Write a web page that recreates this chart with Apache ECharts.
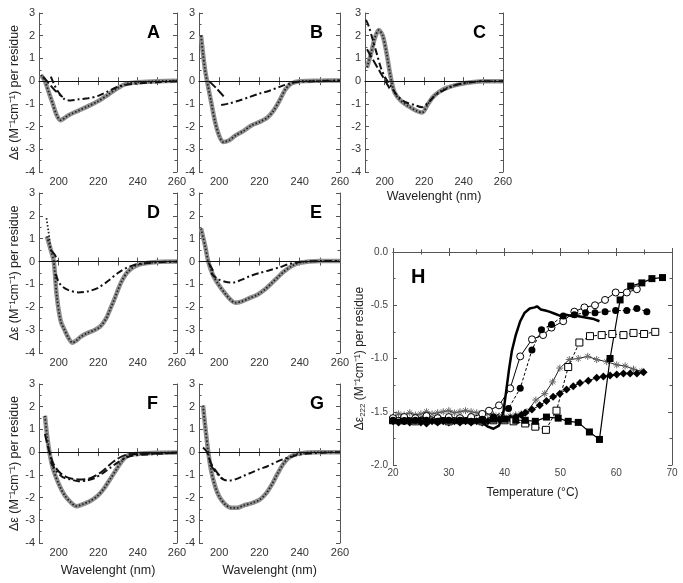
<!DOCTYPE html>
<html><head><meta charset="utf-8">
<script src="https://cdn.jsdelivr.net/npm/echarts@6/dist/echarts.min.js"></script>
<style>html,body{margin:0;padding:0;background:#fff}#c{width:683px;height:583px}</style>
</head><body><div id="c"></div>
<script>
// ---------- CD spectra data (wavelength nm, Δε) ----------
const A_gray = [[191,0.27],[193,0.0],[195,-0.5],[197,-1.0],[199,-1.5],[201,-1.72],[203,-1.62],[205,-1.5],[210,-1.3],[215,-1.1],[220,-0.88],[225,-0.6],[230,-0.3],[235,-0.1],[240,-0.05],[250,0],[260,0.02]];
const A_dashdot = [[196,0.2],[198,-0.2],[200,-0.5],[203,-0.8],[206,-0.85],[210,-0.8],[215,-0.75],[220,-0.65],[225,-0.45],[230,-0.25],[235,-0.15],[240,-0.1],[250,-0.05],[260,0]];
const A_short = [[192,0.2],[195,-0.1],[198,-0.4],[202,-0.7]];

const B_gray = [[191,2.0],[192,1.2],[193,0.5],[194,0],[196,-0.9],[198,-1.8],[200,-2.4],[202,-2.68],[205,-2.6],[208,-2.4],[212,-2.2],[216,-1.95],[220,-1.8],[224,-1.6],[227,-1.3],[230,-0.85],[233,-0.35],[236,-0.1],[240,0],[250,0.02],[260,0.03]];
const B_dashdot = [[201,-1.05],[205,-0.98],[210,-0.85],[215,-0.7],[220,-0.55],[225,-0.42],[230,-0.25],[235,-0.1],[240,-0.03],[250,0],[260,0.03]];
const B_short = [[195,0.0],[199,-0.35],[203,-0.75]];

const C_gray = [[191,0.6],[193,1.2],[195,1.9],[197,2.25],[199,2.0],[201,1.2],[203,0.2],[205,-0.5],[208,-0.85],[212,-1.1],[216,-1.3],[219,-1.38],[222,-1.0],[225,-0.65],[230,-0.35],[235,-0.2],[240,-0.1],[250,0],[260,0]];
const C_dashdot = [[190.5,2.7],[192,2.4],[194,1.8],[196,1.2],[198,0.6],[200,0.2],[203,-0.2],[206,-0.6],[210,-0.9],[215,-1.05],[219,-1.15],[222,-0.95],[226,-0.6],[230,-0.4],[235,-0.2],[240,-0.1],[250,0],[260,0]];
const C_short = [[191,1.4],[193,1.1],[195,0.8],[197,0.5],[199,0.2],[201,-0.1],[203,-0.4]];

const D_gray = [[194,1.1],[196,0.5],[197.5,0],[199,-1.5],[201,-2.6],[203,-3.0],[205,-3.35],[207,-3.55],[209,-3.45],[211,-3.3],[214,-3.15],[218,-3.0],[221,-2.85],[224,-2.5],[226,-2.1],[228,-1.7],[230,-1.25],[232,-0.85],[235,-0.45],[240,-0.15],[250,-0.02],[260,0]];
const D_dotTip = [[193.8,1.9],[195,1.2],[196,0.5]];
const D_dashdot = [[198.5,-0.55],[200,-0.9],[202,-1.1],[205,-1.25],[210,-1.35],[215,-1.3],[220,-1.15],[225,-0.85],[230,-0.5],[235,-0.25],[240,-0.12],[250,-0.03],[260,0]];
const D_short = [[196,0.5],[198,0.3],[199.5,0.0]];

const E_gray = [[191,1.45],[193,0.7],[194.6,0],[197,-0.6],[200,-1.05],[203,-1.4],[206,-1.7],[208,-1.8],[211,-1.75],[215,-1.6],[219,-1.45],[223,-1.2],[226,-0.95],[229,-0.7],[232,-0.45],[236,-0.2],[240,-0.05],[250,0.02],[260,0.02]];
const E_dashdot = [[196,-0.5],[199,-0.75],[203,-0.88],[207,-0.92],[211,-0.8],[215,-0.65],[220,-0.5],[225,-0.38],[230,-0.25],[235,-0.1],[240,-0.02],[250,0.02],[260,0.02]];
const E_short = [[195,-0.1],[197,-0.4]];

const F_gray = [[193,1.6],[194,0.8],[195.3,0],[197,-0.7],[200,-1.4],[203,-1.9],[206,-2.2],[209,-2.38],[212,-2.3],[216,-2.15],[220,-1.9],[223,-1.6],[226,-1.2],[229,-0.8],[232,-0.4],[235,-0.15],[240,-0.08],[250,-0.03],[260,-0.02]];
const F_dashdot = [[196,-0.45],[199,-0.85],[202,-1.1],[206,-1.2],[210,-1.28],[214,-1.25],[218,-1.15],[222,-0.95],[226,-0.7],[230,-0.45],[234,-0.25],[238,-0.15],[245,-0.1],[260,-0.02]];
const F_short = [[193,0.8],[195,0.1],[197,-0.45],[200,-0.85],[204,-1.1],[210,-1.2],[216,-1.15],[222,-0.85],[228,-0.4],[234,-0.12],[240,-0.08],[250,-0.05],[260,-0.02]];

const G_gray = [[192,2.05],[193,1.2],[194.6,0],[196,-0.8],[198,-1.5],[200,-1.95],[203,-2.3],[206,-2.45],[209,-2.45],[212,-2.35],[216,-2.25],[220,-2.1],[223,-1.85],[226,-1.45],[229,-0.95],[232,-0.5],[235,-0.22],[240,-0.05],[250,0],[260,0]];
const G_dashdot = [[196,-0.6],[199,-0.95],[202,-1.2],[205,-1.25],[208,-1.2],[212,-1.05],[216,-0.9],[220,-0.75],[224,-0.62],[228,-0.45],[232,-0.3],[236,-0.2],[240,-0.1],[250,-0.03],[260,0]];
const G_short = [[192,0.2],[194,0],[196,-0.5],[199,-0.9],[202,-1.2]];

// ---------- thermal melts (T °C, Δε222) ----------
const H_thick = [[20,-1.57],[21,-1.58],[22,-1.56],[23,-1.57],[24,-1.58],[25,-1.56],[26,-1.57],[27,-1.58],[28,-1.57],[29,-1.56],[30,-1.57],[31,-1.58],[32,-1.56],[33,-1.57],[34,-1.58],[35,-1.57],[36,-1.6],[37,-1.64],[38,-1.66],[39,-1.63],[39.8,-1.5],[40.3,-1.3],[40.8,-1.1],[41.3,-0.93],[42,-0.78],[42.8,-0.65],[43.6,-0.57],[44.5,-0.53],[45.4,-0.52],[45.8,-0.51],[46.5,-0.54],[47.3,-0.55],[48,-0.56],[49,-0.58],[50,-0.6],[51,-0.59],[52,-0.6],[53,-0.6],[54,-0.61],[55,-0.62],[56,-0.63],[57,-0.65]];
const H_openCircle = [[20,-1.56],[22,-1.55],[24,-1.56],[26,-1.54],[28,-1.56],[30,-1.55],[32,-1.56],[34,-1.55],[36,-1.52],[37.2,-1.49],[39,-1.44],[41,-1.28],[42.8,-0.98],[44.9,-0.82],[46.9,-0.78],[48.4,-0.71],[50.5,-0.65],[52.5,-0.56],[54.3,-0.52],[56.2,-0.5],[58,-0.45],[59.9,-0.38],[61.9,-0.38],[63.7,-0.35]];
const H_fillCircle = [[20,-1.58],[22,-1.59],[24,-1.58],[26,-1.58],[28,-1.59],[30,-1.58],[32,-1.58],[34,-1.59],[36,-1.57],[38,-1.55],[40.7,-1.47],[42.8,-1.28],[44.9,-0.92],[46.6,-0.73],[48.4,-0.68],[50.5,-0.6],[52.5,-0.59],[54.5,-0.57],[56.2,-0.57],[58,-0.56],[59.9,-0.55],[61.9,-0.55],[63.7,-0.53],[65.5,-0.56]];
const H_openSquare = [[20,-1.58],[22,-1.58],[24,-1.59],[26,-1.58],[28,-1.58],[30,-1.59],[32,-1.58],[34,-1.58],[36,-1.59],[38,-1.58],[40,-1.58],[41.6,-1.59],[43.7,-1.61],[45.5,-1.64],[47.4,-1.67],[49.3,-1.49],[51.4,-1.08],[53.4,-0.85],[55.3,-0.79],[57.4,-0.78],[59.3,-0.77],[61.3,-0.78],[63.1,-0.76],[65,-0.77],[67,-0.75]];
const H_fillSquare = [[20,-1.58],[22,-1.57],[24,-1.58],[26,-1.58],[28,-1.57],[30,-1.58],[32,-1.58],[34,-1.57],[36,-1.58],[38,-1.57],[40,-1.57],[42,-1.58],[43.7,-1.58],[45.5,-1.59],[47.5,-1.55],[49.6,-1.56],[51.4,-1.59],[53.2,-1.6],[55.2,-1.69],[57,-1.76],[58.9,-1.0],[60.7,-0.45],[62.6,-0.32],[64.6,-0.29],[66.4,-0.25],[68.3,-0.24]];
const H_star = [[20,-1.55],[21,-1.52],[22,-1.53],[23,-1.51],[24,-1.53],[25,-1.52],[26,-1.5],[27,-1.52],[28,-1.51],[29,-1.5],[30,-1.49],[31,-1.51],[32,-1.5],[33,-1.49],[34,-1.5],[35,-1.51],[36,-1.52],[37,-1.52],[38,-1.53],[39,-1.54],[40,-1.55],[41,-1.54],[42,-1.53],[43,-1.52],[44,-1.5],[45.6,-1.39],[47.2,-1.33],[48.6,-1.22],[49.9,-1.09],[51.6,-1.01],[53.2,-1.0],[54.9,-0.98],[56.5,-1.01],[58.3,-1.03],[60.1,-1.06],[61.6,-1.07],[63.1,-1.1],[64.6,-1.12]];
const H_diamond = [[20,-1.59],[21,-1.6],[22,-1.59],[23,-1.6],[24,-1.59],[25,-1.6],[26,-1.61],[27,-1.59],[28,-1.6],[29,-1.59],[30,-1.6],[31,-1.59],[32,-1.6],[33,-1.59],[34,-1.6],[35,-1.59],[36,-1.6],[37,-1.59],[38,-1.58],[39,-1.57],[40,-1.57],[41,-1.56],[42,-1.55],[43,-1.53],[43.7,-1.51],[44.9,-1.48],[46.3,-1.44],[47.5,-1.4],[48.7,-1.36],[49.9,-1.33],[51.1,-1.29],[52.3,-1.26],[53.5,-1.23],[55,-1.21],[56.5,-1.18],[57.7,-1.17],[58.9,-1.16],[60.1,-1.15],[61.3,-1.14],[62.5,-1.14],[63.7,-1.14],[64.9,-1.13]];

const cdYTicks = [3,2,1,0,-1,-2,-3,-4];
const cdXLabels = [200,220,240,260];
const hYLabels = ['0.0','-0.5','-1.0','-1.5','-2.0'];
const yNameCD = 'Δε (M⁻¹cm⁻¹) per residue';
const xNameCD = 'Wavelenght (nm)';

// ---------- layout ----------
const FONT = 'Liberation Sans, Arial, sans-serif';
const panels = [
  {id:'A', g:{left:39, top:13, width:138, height:159}, gray:A_gray, dd:A_dashdot, sh:A_short, yName:true, xName:0},
  {id:'B', g:{left:199, top:13, width:141, height:159}, gray:B_gray, dd:B_dashdot, sh:B_short, yName:false, xName:0},
  {id:'C', g:{left:365, top:13, width:138, height:159}, gray:C_gray, dd:C_dashdot, sh:C_short, yName:false, xName:18},
  {id:'D', g:{left:39, top:193, width:138, height:160}, gray:D_gray, dd:D_dashdot, sh:D_short, tip:D_dotTip, yName:true, xName:0},
  {id:'E', g:{left:199, top:193, width:141, height:160}, gray:E_gray, dd:E_dashdot, sh:E_short, yName:false, xName:0},
  {id:'F', g:{left:39, top:384, width:138, height:159}, gray:F_gray, dd:F_dashdot, sh:F_short, yName:true, xName:21},
  {id:'G', g:{left:199, top:384, width:141, height:159}, gray:G_gray, dd:G_dashdot, sh:G_short, yName:false, xName:21}
];
const hGrid = {left:393, top:252, width:279, height:213};

const axisLineStyle = {show:true, lineStyle:{color:'#555', width:1}};
const grid = [], xAxis = [], yAxis = [], series = [], graphic = [];

panels.forEach((p, i) => {
  grid.push(Object.assign({containLabel:false}, p.g));
  const xb = {gridIndex:i, type:'value', min:190, max:260, interval:10, position:'bottom',
    axisLine:axisLineStyle, axisTick:{inside:true, length:4, lineStyle:{color:'#555'}},
    splitLine:{show:false},
    axisLabel:{margin:4, fontSize:11, color:'#333', fontFamily:FONT,
      formatter:v => cdXLabels.indexOf(v) >= 0 ? String(v) : ''}};
  if (p.xName) Object.assign(xb, {name:xNameCD, nameLocation:'middle', nameGap:p.xName,
    nameTextStyle:{fontSize:12.5, color:'#222', fontFamily:FONT}});
  xAxis.push(xb);
  xAxis.push({gridIndex:i, type:'value', min:190, max:260, interval:10, position:'top',
    axisLine:axisLineStyle, axisTick:{inside:true, length:4, lineStyle:{color:'#555'}},
    axisLabel:{show:false}, splitLine:{show:false}});
  const yl = {gridIndex:i, type:'value', min:-4, max:3, interval:1, position:'left',
    axisLine:axisLineStyle, axisTick:{inside:true, length:4, lineStyle:{color:'#555'}},
    minorTick:{show:true, splitNumber:2, length:2.5, lineStyle:{color:'#555'}},
    splitLine:{show:false},
    axisLabel:{margin:4, fontSize:11, color:'#333', fontFamily:FONT,
      formatter:v => cdYTicks.indexOf(v) >= 0 ? String(v) : ''}};
  if (p.yName) Object.assign(yl, {name:yNameCD, nameLocation:'middle', nameGap:17,
    nameTextStyle:{fontSize:12.5, color:'#222', fontFamily:FONT}});
  yAxis.push(yl);
  yAxis.push({gridIndex:i, type:'value', min:-4, max:3, interval:1, position:'right',
    axisLine:axisLineStyle, axisTick:{inside:true, length:4, lineStyle:{color:'#555'}},
    minorTick:{show:true, splitNumber:2, length:2.5, lineStyle:{color:'#555'}},
    axisLabel:{show:false}, splitLine:{show:false}});
  const xi = 2*i, yi = 2*i;
  series.push({type:'line', xAxisIndex:xi, yAxisIndex:yi, data:p.gray, showSymbol:false, smooth:0.3,
    lineStyle:{color:'#8f8f8f', width:4.5}, z:2, silent:true,
    markLine:{silent:true, symbol:'none', label:{show:false}, lineStyle:{color:'#111', width:1, type:'solid'}, data:[{yAxis:0}]}});
  series.push({type:'line', xAxisIndex:xi, yAxisIndex:yi, data:p.gray, showSymbol:false, smooth:0.3,
    lineStyle:{color:'#222', width:1.8, type:[1.5,2]}, z:3, silent:true});
  if (p.tip) series.push({type:'line', xAxisIndex:xi, yAxisIndex:yi, data:p.tip, showSymbol:false,
    lineStyle:{color:'#222', width:1.8, type:[1.5,2]}, z:3, silent:true});
  series.push({type:'line', xAxisIndex:xi, yAxisIndex:yi, data:p.dd, showSymbol:false, smooth:0.3,
    lineStyle:{color:'#111', width:2, type:[7,3,2,3]}, z:4, silent:true});
  series.push({type:'line', xAxisIndex:xi, yAxisIndex:yi, data:p.sh, showSymbol:false, smooth:0.3,
    lineStyle:{color:'#111', width:2, type:[9,3]}, z:4, silent:true});
  graphic.push({type:'text', left:p.g.left + p.g.width - 24 - 6, top:p.g.top + 11,
    style:{text:p.id, font:'bold 18px ' + FONT, fill:'#000'}});
});

// Panel H
const hi = panels.length;
grid.push(hGrid);
xAxis.push({gridIndex:hi, type:'value', min:20, max:70, interval:10, position:'bottom',
  axisLine:axisLineStyle, axisTick:{inside:true, length:4, lineStyle:{color:'#555'}},
  minorTick:{show:true, splitNumber:2, length:2.5, lineStyle:{color:'#555'}},
  splitLine:{show:false},
  axisLabel:{margin:3, fontSize:10, color:'#444', fontFamily:FONT},
  name:'Temperature (°C)', nameLocation:'middle', nameGap:22,
  nameTextStyle:{fontSize:12, color:'#222', fontFamily:FONT}});
xAxis.push({gridIndex:hi, type:'value', min:20, max:70, interval:10, position:'top',
  axisLine:axisLineStyle, axisTick:{inside:true, length:4, lineStyle:{color:'#555'}},
  minorTick:{show:true, splitNumber:2, length:2.5, lineStyle:{color:'#555'}},
  axisLabel:{show:false}, splitLine:{show:false}});
yAxis.push({gridIndex:hi, type:'value', min:-2, max:0, interval:0.5, position:'left',
  axisLine:axisLineStyle, axisTick:{inside:true, length:4, lineStyle:{color:'#555'}},
  minorTick:{show:true, splitNumber:2, length:2.5, lineStyle:{color:'#555'}},
  splitLine:{show:false},
  axisLabel:{margin:5, fontSize:10, color:'#444', fontFamily:FONT,
    formatter:v => hYLabels[Math.round(-v*2)]},
  name:'{a|Δε}{s|222}{a| (M⁻¹cm⁻¹) per residue}', nameLocation:'middle', nameGap:26,
  nameTextStyle:{fontSize:12, color:'#222', fontFamily:FONT,
    rich:{a:{fontSize:12, color:'#222', fontFamily:FONT}, s:{fontSize:8, color:'#222', fontFamily:FONT, padding:[6,0,0,0]}}}});
yAxis.push({gridIndex:hi, type:'value', min:-2, max:0, interval:0.5, position:'right',
  axisLine:axisLineStyle, axisTick:{inside:true, length:4, lineStyle:{color:'#555'}},
  minorTick:{show:true, splitNumber:2, length:2.5, lineStyle:{color:'#555'}},
  axisLabel:{show:false}, splitLine:{show:false}});
const hx = 2*hi, hy = 2*hi;
const star = 'path://M0,5L10,5M5,0L5,10M1.5,1.5L8.5,8.5M8.5,1.5L1.5,8.5';
const hS = (data, extra) => Object.assign({type:'line', xAxisIndex:hx, yAxisIndex:hy, data, silent:true}, extra);
series.push(hS(H_star, {symbol:star, symbolSize:7, itemStyle:{color:'#666', borderColor:'#666', borderWidth:1}, lineStyle:{color:'#222', width:1}, z:3}));
series.push(hS(H_diamond, {symbol:'diamond', symbolSize:8, itemStyle:{color:'#000'}, lineStyle:{color:'#000', width:1}, z:4}));
series.push(hS(H_openSquare, {symbol:'rect', symbolSize:7, itemStyle:{color:'#fff', borderColor:'#000', borderWidth:1}, lineStyle:{color:'#000', width:1, type:[3,2]}, z:5}));
series.push(hS(H_fillSquare, {symbol:'rect', symbolSize:7, itemStyle:{color:'#000'}, lineStyle:{color:'#000', width:1.2}, z:5}));
series.push(hS(H_openCircle, {symbol:'circle', symbolSize:7, itemStyle:{color:'#fff', borderColor:'#000', borderWidth:1}, lineStyle:{color:'#000', width:1}, z:6}));
series.push(hS(H_fillCircle, {symbol:'circle', symbolSize:7, itemStyle:{color:'#000'}, lineStyle:{color:'#000', width:1, type:[3,2]}, z:6}));
series.push(hS(H_thick, {showSymbol:false, symbol:'none', lineStyle:{color:'#000', width:2.5}, z:7}));
graphic.push({type:'text', left:hGrid.left + 18, top:hGrid.top + 15, style:{text:'H', font:'bold 20px ' + FONT, fill:'#000'}});

const chart = echarts.init(document.getElementById('c'), null, {renderer:'canvas'});
chart.setOption({animation:false, backgroundColor:'#fff', grid, xAxis, yAxis, series, graphic});
</script></body></html>
